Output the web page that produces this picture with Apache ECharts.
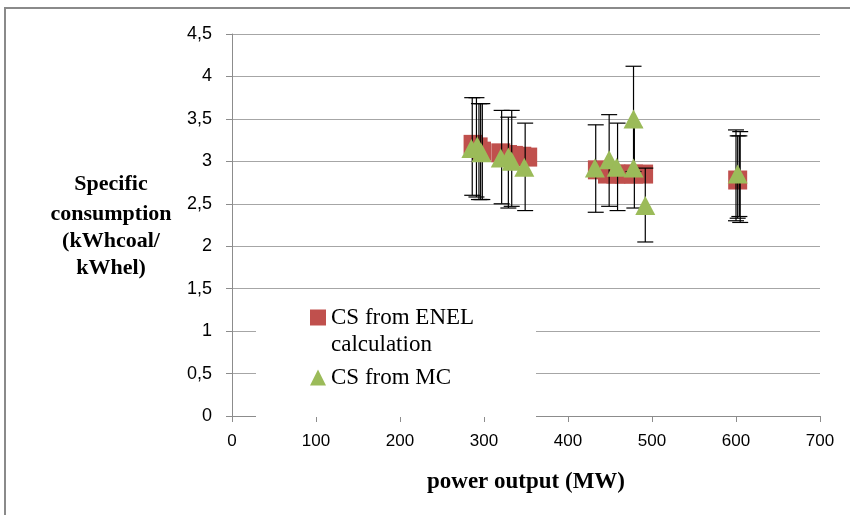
<!DOCTYPE html>
<html>
<head>
<meta charset="utf-8">
<script src="https://cdn.jsdelivr.net/npm/echarts@6/dist/echarts.min.js"></script>
<style>
html,body{margin:0;padding:0;background:#fff;}
#main{width:850px;height:515px;}
</style>
</head>
<body>
<div id="main"></div>
<script>
// CS from ENEL calculation (red squares)
var enelX = [287, 293, 297, 320, 328, 335, 345, 352, 435, 447, 457, 467, 478, 490, 602];
var enelY = [3.2, 3.17, 3.12, 3.1, 3.08, 3.07, 3.06, 3.05, 2.9, 2.85, 2.85, 2.85, 2.85, 2.85, 2.78];
// CS from MC (green triangles)
var mcX = [285, 292, 297, 320, 329, 333, 348, 432, 449, 458, 478, 478, 492, 602];
var mcY = [3.15, 3.18, 3.1, 3.04, 3.05, 3.0, 2.93, 2.92, 3.02, 2.93, 3.5, 2.92, 2.48, 2.85];
// error bars: x, low, high
var barX    = [286, 291, 294, 296, 298, 321, 329, 333, 349, 433, 449, 459, 478, 479, 492, 600, 602, 604, 605];
var barLow  = [2.6, 2.58, 2.55, 2.55, 2.55, 2.5, 2.45, 2.47, 2.42, 2.4, 2.47, 2.42, 2.88, 2.45, 2.05, 2.3, 2.33, 2.35, 2.28];
var barHigh = [3.75, 3.75, 3.68, 3.68, 3.68, 3.6, 3.52, 3.6, 3.45, 3.43, 3.55, 3.45, 4.12, 3.4, 2.92, 3.37, 3.3, 3.3, 3.35];
var yTicks = ['0', '0,5', '1', '1,5', '2', '2,5', '3', '3,5', '4', '4,5'];

function pairs(xs, ys) {
  return xs.map(function (x, i) { return [x, ys[i]]; });
}
var bars = barX.map(function (x, i) { return [x, barLow[i], barHigh[i]]; });

var nameFont = { fontFamily: 'Liberation Serif', fontWeight: 'bold', fontSize: 22, color: '#000' };

var chart = echarts.init(document.getElementById('main'));
var option = {
  animation: false,
  backgroundColor: '#fff',
  grid: { left: 232, right: 30, top: 34, bottom: 99 },
  graphic: [
    { type: 'rect', z: 100, shape: { x: 5, y: 8, width: 860, height: 520 },
      style: { fill: 'none', stroke: '#8a8a8a', lineWidth: 2 } },
    { type: 'rect', z: 3, shape: { x: 256, y: 296, width: 280, height: 121 },
      style: { fill: '#fff' } }
  ],
  legend: {
    orient: 'vertical',
    left: 310,
    top: 277,
    padding: 0,
    itemGap: 6,
    itemWidth: 16,
    itemHeight: 16,
    z: 10,
    textStyle: { fontFamily: 'Liberation Serif', fontSize: 23, color: '#000', lineHeight: 27 },
    formatter: function (name) {
      return name === 'CS from MC' ? name : ' \nCS from ENEL\ncalculation';
    },
    data: [
      { name: 'CS from ENEL calculation', icon: 'rect' },
      { name: 'CS from MC', icon: 'triangle' }
    ]
  },
  xAxis: {
    type: 'value',
    min: 0, max: 700, interval: 100,
    name: 'power output (MW)',
    nameLocation: 'middle',
    nameGap: 55,
    nameTextStyle: { fontFamily: 'Liberation Serif', fontWeight: 'bold', fontSize: 23, color: '#000' },
    axisLine: { onZero: false, lineStyle: { color: '#8c8c8c' } },
    axisTick: { show: true, length: 6, lineStyle: { color: '#8c8c8c' } },
    axisLabel: { fontFamily: 'Liberation Sans', fontSize: 17, color: '#000', margin: 17 },
    splitLine: { show: false }
  },
  yAxis: {
    type: 'value',
    min: 0, max: 4.5, interval: 0.5,
    name: '{a|Specific}\n{b|consumption}\n{b|(kWhcoal/}\n{b|kWhel)}',
    nameLocation: 'middle',
    nameRotate: 0,
    nameGap: 121,
    nameTextStyle: {
      align: 'center', verticalAlign: 'middle',
      rich: {
        a: Object.assign({ lineHeight: 32 }, nameFont),
        b: Object.assign({ lineHeight: 27 }, nameFont)
      }
    },
    axisLine: { show: true, lineStyle: { color: '#8c8c8c' } },
    axisTick: { show: true, length: 6, lineStyle: { color: '#8c8c8c' } },
    axisLabel: {
      fontFamily: 'Liberation Sans', fontSize: 18, color: '#000', margin: 20,
      formatter: function (v) { return yTicks[Math.round(v * 2)]; }
    },
    splitLine: { show: true, lineStyle: { color: '#a6a6a6', width: 1 } }
  },
  series: [
    {
      name: 'CS from ENEL calculation',
      type: 'scatter',
      symbol: 'rect',
      symbolSize: 19,
      z: 2,
      itemStyle: { color: '#c0504d', opacity: 1 },
      data: pairs(enelX, enelY)
    },
    {
      name: 'errbars',
      type: 'custom',
      z: 3,
      encode: { x: 0, y: [1, 2] },
      renderItem: function (params, api) {
        var x = api.value(0);
        var top = api.coord([x, api.value(2)]);
        var bot = api.coord([x, api.value(1)]);
        var w = 8;
        var st = { stroke: '#000', lineWidth: 1.2 };
        return {
          type: 'group',
          children: [
            { type: 'line', shape: { x1: top[0], y1: top[1], x2: bot[0], y2: bot[1] }, style: st },
            { type: 'line', shape: { x1: top[0] - w, y1: top[1], x2: top[0] + w, y2: top[1] }, style: st },
            { type: 'line', shape: { x1: bot[0] - w, y1: bot[1], x2: bot[0] + w, y2: bot[1] }, style: st }
          ]
        };
      },
      data: bars
    },
    {
      name: 'CS from MC',
      type: 'scatter',
      symbol: 'triangle',
      symbolSize: [20, 19],
      z: 4,
      itemStyle: { color: '#9bbb59', opacity: 1 },
      data: pairs(mcX, mcY)
    }
  ]
};
chart.setOption(option);
</script>
</body>
</html>
